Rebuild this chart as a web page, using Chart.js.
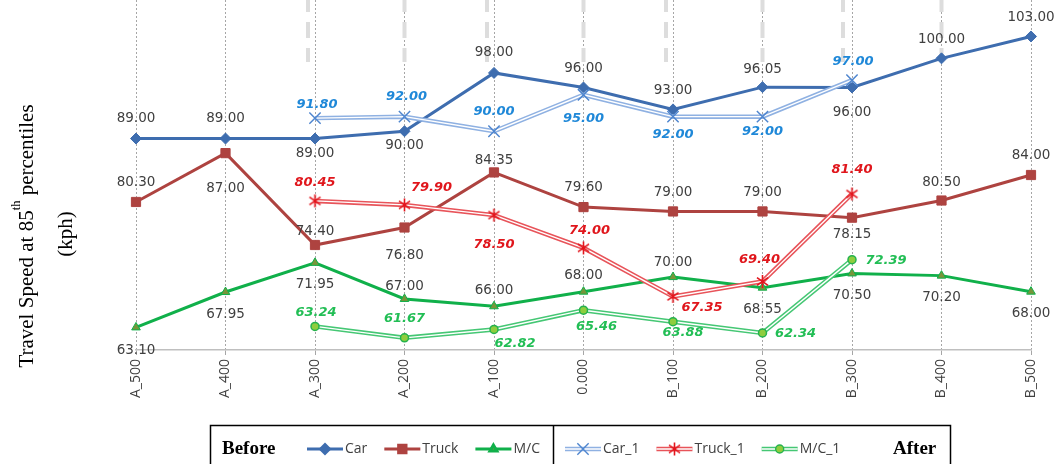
<!DOCTYPE html>
<html>
<head>
<meta charset="utf-8">
<script src="https://cdn.jsdelivr.net/npm/chart.js@4.4.1/dist/chart.umd.min.js"></script>
<style>
  html, body { margin: 0; padding: 0; background: #fff; }
  #wrap { width: 1061px; height: 464px; }
</style>
</head>
<body>
<div id="wrap"><canvas id="c" width="1061" height="464"></canvas></div>
<script>
// Sections along the road (before / after the treatment point)
const sections = ['A_500', 'A_400', 'A_300', 'A_200', 'A_100', '0.000', 'B_100', 'B_200', 'B_300', 'B_400', 'B_500'];

// 85th percentile speeds (kph) before treatment
const carBefore   = [89.00, 89.00, 89.00, 90.00, 98.00, 96.00, 93.00, 96.05, 96.00, 100.00, 103.00];
const truckBefore = [80.30, 87.00, 74.40, 76.80, 84.35, 79.60, 79.00, 79.00, 78.15, 80.50, 84.00];
const mcBefore    = [63.10, 67.95, 71.95, 67.00, 66.00, 68.00, 70.00, 68.55, 70.50, 70.20, 68.00];

// 85th percentile speeds (kph) after treatment
const carAfter   = [null, null, 91.80, 92.00, 90.00, 95.00, 92.00, 92.00, 97.00, null, null];
const truckAfter = [null, null, 80.45, 79.90, 78.50, 74.00, 67.35, 69.40, 81.40, null, null];
const mcAfter    = [null, null, 63.24, 61.67, 62.82, 65.46, 63.88, 62.34, 72.39, null, null];

// Value label placement (dx, dy in px from the point)
const carLabelPos   = [[0,-20],[0,-20],[0,15],[0,14],[0,-20],[0,-19],[0,-19],[0,-18],[0,25],[0,-19],[0,-19]];
const truckLabelPos = [[0,-19],[0,35],[0,-14],[0,28],[0,-12],[0,-20],[0,-19],[0,-19],[0,17],[0,-18],[0,-20]];
const mcLabelPos    = [[0,23],[0,22],[0,22],[0,-12],[0,-16],[0,-16],[0,-15],[0,22],[0,22],[0,22],[0,22]];
const carAfterLabelPos   = [null,null,[2,-14],[2,-20],[0,-20],[0,24],[0,18],[0,15],[1,-19],null,null];
const truckAfterLabelPos = [null,null,[0,-18],[27,-17],[0,30],[6,-17],[29,11],[-3,-22],[0,-24],null,null];
const mcAfterLabelPos    = [null,null,[1,-14],[0,-19],[21,14],[13,16],[10,11],[33,1],[34,1],null,null];

// Six-armed asterisk marker for the truck "after" series
function makeAsterisk(color, size) {
  const cv = document.createElement('canvas');
  cv.width = size; cv.height = size;
  const g = cv.getContext('2d');
  const c = size / 2, r = size / 2 - 1;
  g.strokeStyle = color; g.lineWidth = 1.6; g.lineCap = 'butt';
  g.beginPath();
  g.moveTo(c - r * 0.85, c - r * 0.6); g.lineTo(c + r * 0.85, c + r * 0.6);
  g.moveTo(c + r * 0.85, c - r * 0.6); g.lineTo(c - r * 0.85, c + r * 0.6);
  g.moveTo(c, c - r); g.lineTo(c, c + r);
  g.stroke();
  return cv;
}
const asterisk = makeAsterisk('#E3161D', 15);

const COLORS = {
  car: '#3E6DAF', truck: '#AE4340', mc: '#10B04A', mcTri: '#77953A',
  carA: '#8FB1E2', carAMark: '#4F86CF', carALabel: '#1F88D8',
  truckA: '#E8545A', truckALabel: '#E0161C',
  mcA: '#45C774', mcAFill: '#8FCD3E', mcABorder: '#25B24E', mcALabel: '#22BE55'
};

function afterSeries(label, data, lineColor, markerOpts, order) {
  return [
    { label: label, data: data, borderColor: lineColor, borderWidth: 4.5, pointRadius: 0, order: order + 2 },
    { label: label + '_inner', data: data, borderColor: '#FFFFFF', borderWidth: 1.4, pointRadius: 0, order: order + 1 },
    Object.assign({ label: label + '_marks', data: data, showLine: false, order: order }, markerOpts)
  ];
}

const datasets = [
  { label: 'Car', data: carBefore, borderColor: COLORS.car, backgroundColor: COLORS.car, borderWidth: 3,
    pointStyle: 'rectRot', pointRadius: 5.5, pointBackgroundColor: COLORS.car, pointBorderColor: COLORS.car, pointBorderWidth: 1, order: 10 },
  { label: 'Truck', data: truckBefore, borderColor: COLORS.truck, backgroundColor: COLORS.truck, borderWidth: 3,
    pointStyle: 'rect', pointRadius: 6.5, pointBackgroundColor: COLORS.truck, pointBorderColor: COLORS.truck, pointBorderWidth: 1, order: 11 },
  { label: 'M/C', data: mcBefore, borderColor: COLORS.mc, backgroundColor: COLORS.mc, borderWidth: 3,
    pointStyle: 'triangle', pointRadius: 5, pointBackgroundColor: COLORS.mcTri, pointBorderColor: COLORS.mc, pointBorderWidth: 1, order: 12 },
  ...afterSeries('Car_1', carAfter, COLORS.carA,
    { pointStyle: 'crossRot', pointRadius: 8, pointBorderColor: COLORS.carAMark, pointBackgroundColor: COLORS.carAMark, pointBorderWidth: 1.5 }, 0),
  ...afterSeries('Truck_1', truckAfter, COLORS.truckA,
    { pointStyle: asterisk, pointRadius: 7, pointBorderColor: '#E3161D', pointBackgroundColor: '#E3161D' }, 3),
  ...afterSeries('M/C_1', mcAfter, COLORS.mcA,
    { pointStyle: 'circle', pointRadius: 4, pointBorderColor: COLORS.mcABorder, pointBackgroundColor: COLORS.mcAFill, pointBorderWidth: 1.5 }, 6)
];

// Which dataset carries each value label set
const labelSets = [
  { label: 'Car', values: carBefore, pos: carLabelPos, font: '13.5px "DejaVu Sans"', color: '#404040' },
  { label: 'Truck', values: truckBefore, pos: truckLabelPos, font: '13.5px "DejaVu Sans"', color: '#404040' },
  { label: 'M/C', values: mcBefore, pos: mcLabelPos, font: '13.5px "DejaVu Sans"', color: '#404040' },
  { label: 'Car_1_marks', values: carAfter, pos: carAfterLabelPos, font: 'italic bold 13px "DejaVu Sans"', color: COLORS.carALabel },
  { label: 'Truck_1_marks', values: truckAfter, pos: truckAfterLabelPos, font: 'italic bold 13px "DejaVu Sans"', color: COLORS.truckALabel },
  { label: 'M/C_1_marks', values: mcAfter, pos: mcAfterLabelPos, font: 'italic bold 13px "DejaVu Sans"', color: COLORS.mcALabel }
];

// Faint dashed separators hanging from the top edge
const topDashSections = ['A_300', 'A_200', 'A_100', '0.000', 'B_100', 'B_200', 'B_300', 'B_400'];
const topDashShift = [-7, 0, -7, 0, -7, 0, -9, 0];

const topDashes = {
  id: 'topDashes',
  beforeDatasetsDraw(chart) {
    const { ctx, chartArea, scales: { x } } = chart;
    ctx.save();
    ctx.strokeStyle = '#DDDDDD';
    ctx.lineWidth = 4;
    ctx.setLineDash([16, 10]);
    ctx.lineDashOffset = 4;
    topDashSections.forEach((s, i) => {
      const px = x.getPixelForValue(sections.indexOf(s)) + topDashShift[i];
      ctx.beginPath();
      ctx.moveTo(px, chartArea.top);
      ctx.lineTo(px, chartArea.top + 62);
      ctx.stroke();
    });
    ctx.restore();
  }
};

const valueLabels = {
  id: 'valueLabels',
  afterDatasetsDraw(chart) {
    const { ctx } = chart;
    ctx.save();
    ctx.textAlign = 'center';
    ctx.textBaseline = 'middle';
    labelSets.forEach(set => {
      const di = chart.data.datasets.findIndex(d => d.label === set.label);
      const meta = chart.getDatasetMeta(di);
      ctx.font = set.font;
      ctx.fillStyle = set.color;
      set.values.forEach((v, i) => {
        if (v === null) return;
        const el = meta.data[i];
        const [dx, dy] = set.pos[i];
        ctx.fillText(v.toFixed(2), el.x + dx, el.y + dy);
      });
    });
    ctx.restore();
  }
};

const axisTitle = {
  id: 'axisTitle',
  afterDraw(chart) {
    const { ctx } = chart;
    ctx.save();
    ctx.fillStyle = '#000';
    // first line with superscript
    ctx.translate(26, 236);
    ctx.rotate(-Math.PI / 2);
    const big = '21px "Liberation Serif"', small = '12.5px "Liberation Serif"';
    const p1 = 'Travel Speed at 85', sup = 'th', p3 = ' percentiles';
    ctx.font = big; const w1 = ctx.measureText(p1).width, w3 = ctx.measureText(p3).width;
    ctx.font = small; const w2 = ctx.measureText(sup).width;
    let sx = -(w1 + w2 + w3) / 2;
    ctx.textBaseline = 'alphabetic';
    ctx.textAlign = 'left';
    ctx.font = big; ctx.fillText(p1, sx, 7); sx += w1;
    ctx.font = small; ctx.fillText(sup, sx, -6); sx += w2;
    ctx.font = big; ctx.fillText(p3, sx, 7);
    ctx.restore();

    ctx.save();
    ctx.fillStyle = '#000';
    ctx.translate(65, 234);
    ctx.rotate(-Math.PI / 2);
    ctx.font = '21px "Liberation Serif"';
    ctx.textAlign = 'center';
    ctx.textBaseline = 'alphabetic';
    ctx.fillText('(kph)', 0, 7);
    ctx.restore();
  }
};

function drawSample(ctx, ds, marks, x, y, w) {
  ctx.save();
  ctx.lineCap = 'butt';
  if (marks) {
    ctx.strokeStyle = ds.borderColor; ctx.lineWidth = 4.5;
    ctx.beginPath(); ctx.moveTo(x, y); ctx.lineTo(x + w, y); ctx.stroke();
    ctx.strokeStyle = '#fff'; ctx.lineWidth = 1.4;
    ctx.beginPath(); ctx.moveTo(x, y); ctx.lineTo(x + w, y); ctx.stroke();
    ctx.fillStyle = marks.pointBackgroundColor;
    ctx.strokeStyle = marks.pointBorderColor;
    Chart.helpers.drawPoint(ctx, { pointStyle: marks.pointStyle, radius: marks.pointRadius, borderWidth: marks.pointBorderWidth || 1, rotation: 0 }, x + w / 2, y);
  } else {
    ctx.strokeStyle = ds.borderColor; ctx.lineWidth = 3;
    ctx.beginPath(); ctx.moveTo(x, y); ctx.lineTo(x + w, y); ctx.stroke();
    ctx.fillStyle = ds.pointBackgroundColor;
    ctx.strokeStyle = ds.pointBorderColor;
    Chart.helpers.drawPoint(ctx, { pointStyle: ds.pointStyle, radius: ds.pointRadius * 0.8, borderWidth: 1, rotation: 0 }, x + w / 2, y);
  }
  ctx.restore();
}

const groupLegend = {
  id: 'groupLegend',
  afterDraw(chart) {
    const { ctx } = chart;
    const all = chart.data.datasets;
    const find = l => all.find(d => d.label === l);
    const top = 425.5, left = 210.5, right = 950.5, divider = 553.5, cy = 449;
    ctx.save();
    ctx.strokeStyle = '#000';
    ctx.lineWidth = 1.5;
    ctx.strokeRect(left, top, right - left, 60);
    ctx.beginPath(); ctx.moveTo(divider, top); ctx.lineTo(divider, 464); ctx.stroke();

    ctx.fillStyle = '#000';
    ctx.font = 'bold 19px "Liberation Serif"';
    ctx.textBaseline = 'middle';
    ctx.textAlign = 'left';
    ctx.fillText('Before', 222, cy);
    ctx.fillText('After', 893, cy);

    const sampleW = 36, gap = 17;
    const drawGroup = (labels, startX, after) => {
      let x = startX;
      labels.forEach(l => {
        const ds = find(l);
        drawSample(ctx, ds, after ? find(l + '_marks') : null, x, cy, sampleW);
        ctx.font = '14px "Open Sans"';
        ctx.fillStyle = '#404040';
        ctx.textBaseline = 'middle';
        ctx.fillText(l, x + sampleW + 2, cy);
        x += sampleW + 2 + ctx.measureText(l).width + gap;
      });
    };
    drawGroup(['Car', 'Truck', 'M/C'], 307, false);
    drawGroup(['Car_1', 'Truck_1', 'M/C_1'], 565, true);
    ctx.restore();
  }
};

new Chart(document.getElementById('c'), {
  type: 'line',
  data: { labels: sections, datasets: datasets },
  options: {
    responsive: false,
    devicePixelRatio: 1,
    animation: false,
    layout: { autoPadding: false, padding: { left: 136, right: 30, top: 0, bottom: 0 } },
    elements: { line: { tension: 0 } },
    plugins: { legend: { display: false }, tooltip: { enabled: false } },
    scales: {
      x: {
        offset: false,
        grid: { color: '#A6A6A6', lineWidth: 1, drawTicks: true, tickLength: 5, tickColor: '#A6A6A6', tickBorderDash: [] },
        border: { display: true, color: '#BFBFBF', width: 1.5, dash: [2, 2] },
        ticks: { minRotation: 90, maxRotation: 90, padding: 4, color: '#404040', font: { family: 'Open Sans', size: 14 } },
        afterFit(scale) { scale.height = 114; }
      },
      y: { display: false, min: 60, max: 108 }
    }
  },
  plugins: [topDashes, valueLabels, axisTitle, groupLegend]
});
</script>
</body>
</html>
